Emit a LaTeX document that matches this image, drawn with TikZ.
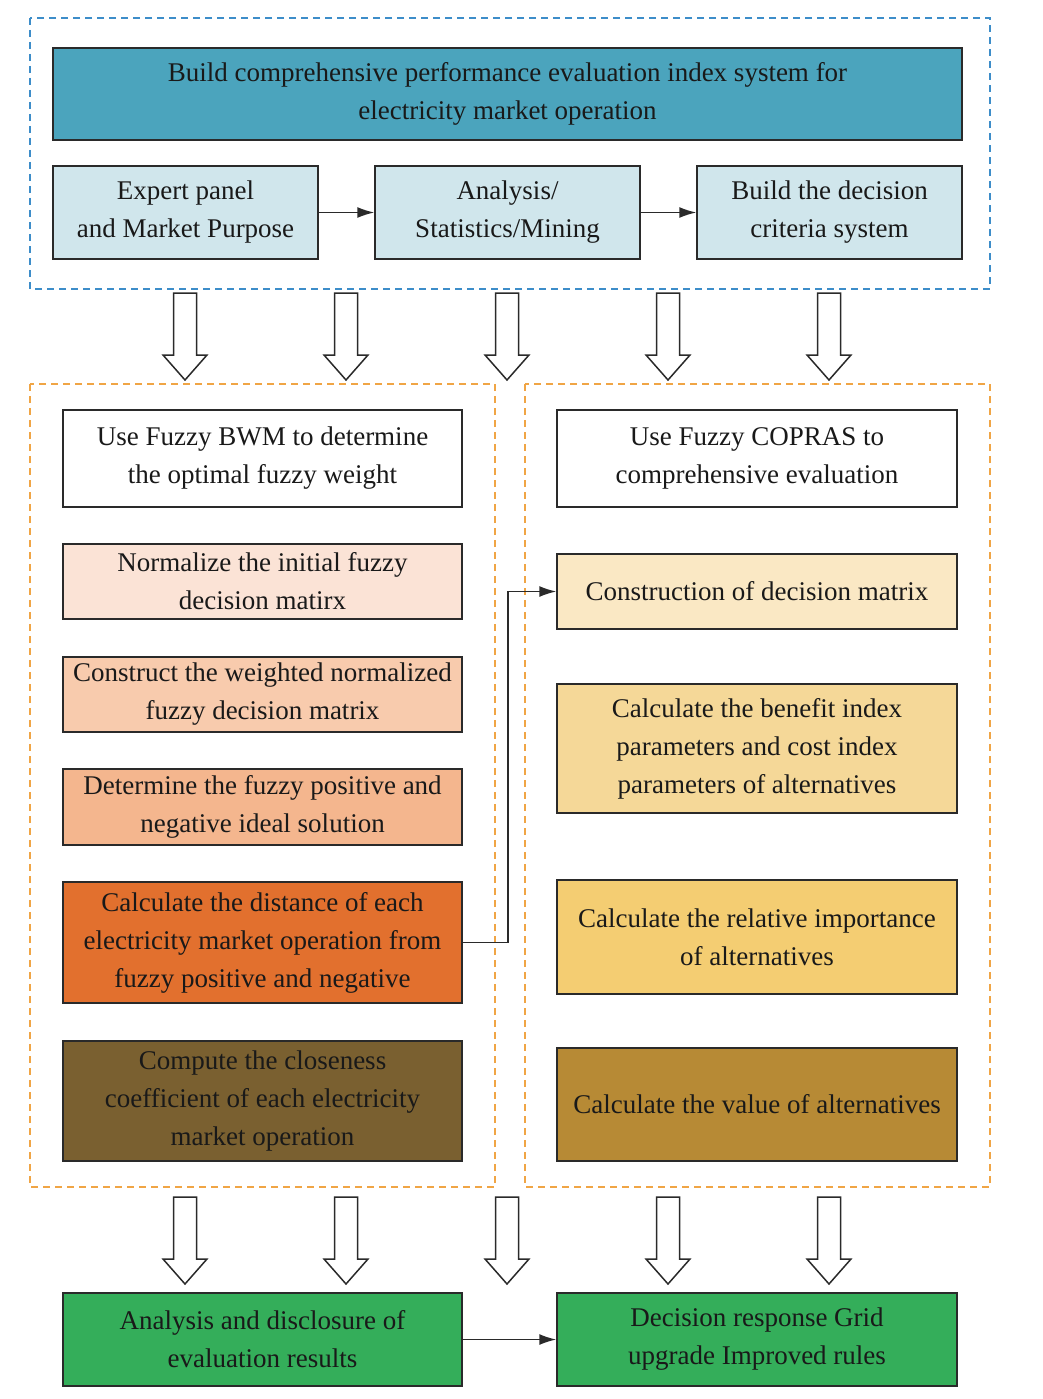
\documentclass[tikz,border=0pt]{standalone}
\usepackage{fontspec}
\setmainfont{Liberation Serif}
\usetikzlibrary{arrows.meta}
\definecolor{topblue}{HTML}{4BA4BD}
\definecolor{lightblue}{HTML}{D0E6EC}
\definecolor{dashblue}{HTML}{3D8DC9}
\definecolor{dashorange}{HTML}{F0A545}
\definecolor{pk1}{HTML}{FBE3D6}
\definecolor{pk2}{HTML}{F8CBAD}
\definecolor{pk3}{HTML}{F4B68E}
\definecolor{pk4}{HTML}{E2702E}
\definecolor{pk5}{HTML}{7A6030}
\definecolor{yl1}{HTML}{FAE8C4}
\definecolor{yl2}{HTML}{F5D898}
\definecolor{yl3}{HTML}{F4CD72}
\definecolor{yl4}{HTML}{B78A35}
\definecolor{grn}{HTML}{34AE5A}
\definecolor{edge}{HTML}{2A2A2A}
\tikzset{
  box/.style={draw=edge, line width=1.5pt, align=center, inner sep=0pt,
    font=\fontsize{27}{38}\selectfont, text=black!90},
  dashbox/.style={line width=1.5pt, dash pattern=on 7pt off 5pt},
  conn/.style={draw=edge, line width=1.5pt, -{Latex[length=17pt,width=11pt]}},
  blockarrow/.style={draw=edge, line width=1.5pt, fill=white}
}
\begin{document}
\begin{tikzpicture}[x=1pt,y=-1pt]
\useasboundingbox (0,0) rectangle (1042,1399);
% dashed frames
\draw[dashbox, draw=dashblue] (30,18) rectangle (990,289);
\draw[dashbox, draw=dashorange] (30,384) rectangle (495,1187);
\draw[dashbox, draw=dashorange] (525,384) rectangle (990,1187);
% top section
\node[box, fill=topblue, minimum width=909pt, minimum height=92pt] (top) at (507.5,94)
  {Build comprehensive performance evaluation index system for\\electricity market operation};
\node[box, fill=lightblue, minimum width=265pt, minimum height=93pt] (exp) at (185.5,212.5)
  {Expert panel\\and Market Purpose};
\node[box, fill=lightblue, minimum width=265pt, minimum height=93pt] (ana) at (507.5,212.5)
  {Analysis/\\Statistics/Mining};
\node[box, fill=lightblue, minimum width=265pt, minimum height=93pt] (bdc) at (829.5,212.5)
  {Build the decision\\criteria system};
\draw[conn] (exp.east) -- (ana.west);
\draw[conn] (ana.east) -- (bdc.west);
% block arrows
\foreach \cx in {185,346,507,668,829}{
  \foreach \ty in {293,1197}{
    \draw[blockarrow] (\cx-11.5,\ty) -- (\cx+11.5,\ty) -- (\cx+11.5,\ty+62) -- (\cx+22,\ty+62)
      -- (\cx,\ty+87) -- (\cx-22,\ty+62) -- (\cx-11.5,\ty+62) -- cycle;
  }
}
% left column
\node[box, fill=white, minimum width=399pt, minimum height=97pt] (bwm) at (262.5,458.5)
  {Use Fuzzy BWM to determine\\the optimal fuzzy weight};
\node[box, fill=pk1, minimum width=399pt, minimum height=75pt] (norm) at (262.5,581.5)
  {Normalize the initial fuzzy\\decision matirx};
\node[box, fill=pk2, minimum width=399pt, minimum height=75pt] (wnorm) at (262.5,694.5)
  {Construct the weighted normalized\\fuzzy decision matrix};
\node[box, fill=pk3, minimum width=399pt, minimum height=76pt] (ideal) at (262.5,807)
  {Determine the fuzzy positive and\\negative ideal solution};
\node[box, fill=pk4, minimum width=399pt, minimum height=121pt] (dist) at (262.5,942.5)
  {Calculate the distance of each\\electricity market operation from\\fuzzy positive and negative};
\node[box, fill=pk5, minimum width=399pt, minimum height=120pt] (close) at (262.5,1101)
  {Compute the closeness\\coefficient of each electricity\\market operation};
% right column
\node[box, fill=white, minimum width=400pt, minimum height=97pt] (copras) at (757,458.5)
  {Use Fuzzy COPRAS to\\comprehensive evaluation};
\node[box, fill=yl1, minimum width=400pt, minimum height=75pt] (dm) at (757,591.5)
  {Construction of decision matrix};
\node[box, fill=yl2, minimum width=400pt, minimum height=129pt] (ben) at (757,748.5)
  {Calculate the benefit index\\parameters and cost index\\parameters of alternatives};
\node[box, fill=yl3, minimum width=400pt, minimum height=114pt] (rel) at (757,937)
  {Calculate the relative importance\\of alternatives};
\node[box, fill=yl4, minimum width=400pt, minimum height=113pt] (val) at (757,1104.5)
  {Calculate the value of alternatives};
\draw[conn] (dist.east) -- ++(45,0) |- (dm.west);
% bottom
\node[box, fill=grn, minimum width=399pt, minimum height=93pt] (disc) at (262.5,1339.5)
  {Analysis and disclosure of\\evaluation results};
\node[box, fill=grn, minimum width=400pt, minimum height=93pt] (resp) at (757,1339.5)
  {Decision response Grid\\upgrade Improved rules};
\draw[conn] (disc.east) -- (resp.west);
\end{tikzpicture}
\end{document}
